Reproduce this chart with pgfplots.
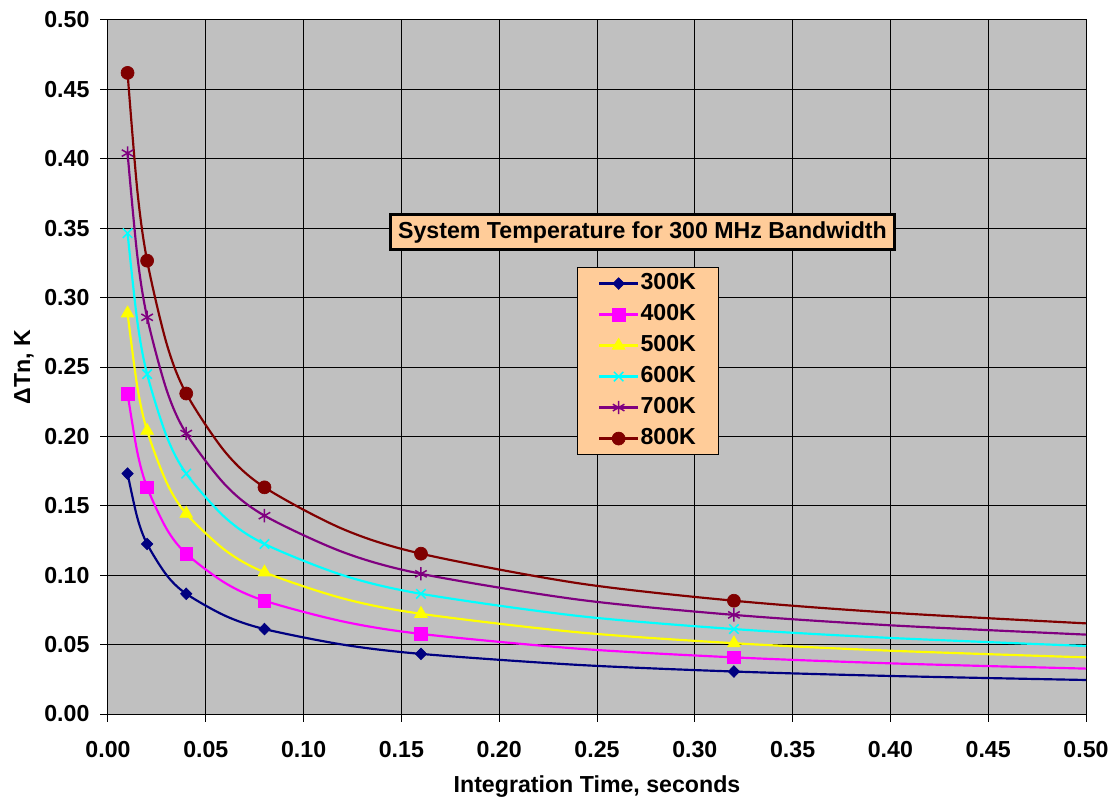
\documentclass[border=0pt]{standalone}
\usepackage{fontspec}
\setmainfont{Liberation Sans}
\usepackage{pgfplots}
\pgfplotsset{compat=1.18}
\definecolor{bggray}{RGB}{192,192,192}
\definecolor{peach}{RGB}{255,204,153}
\definecolor{c300}{RGB}{0,0,128}
\definecolor{c400}{RGB}{255,0,255}
\definecolor{c500}{RGB}{255,255,0}
\definecolor{c600}{RGB}{0,255,255}
\definecolor{c700}{RGB}{128,0,128}
\definecolor{c800}{RGB}{128,0,0}
\newcommand{\chartfont}{\fontsize{13.9}{16}\selectfont\bfseries}
\begin{document}
\begin{tikzpicture}
\begin{axis}[
  at={(0,0)}, anchor=south west,
  scale only axis, width=586.8pt, height=416.4pt,
  xmin=0, xmax=0.5, ymin=0, ymax=0.5,
  xtick={0,0.05,0.1,0.15,0.2,0.25,0.3,0.35,0.4,0.45,0.5},
  ytick={0,0.05,0.1,0.15,0.2,0.25,0.3,0.35,0.4,0.45,0.5},
  xtick pos=left, ytick pos=left,
  tick align=outside, major tick length=4.6pt,
  tick style={black, line width=0.6pt},
  grid=major, major grid style={black, line width=0.6pt},
  axis line style={black, line width=0.6pt},
  axis background/.style={fill=bggray},
  /pgf/number format/fixed, /pgf/number format/fixed zerofill,
  /pgf/number format/precision=2, /pgf/number format/assume math mode=true,
  tick label style={font=\chartfont},
  xticklabel style={yshift=-8pt},
  yticklabel style={xshift=-3pt},
  xlabel={Integration Time, seconds},
  ylabel={ΔTn, K},
  label style={font=\chartfont},
  xlabel style={at={(axis description cs:0.5,-0.104)}, anchor=center},
  ylabel style={at={(axis description cs:-0.0859,0.5)}, anchor=center, rotate=0},
  legend style={at={(rel axis cs:0.4796,0.644)}, anchor=north west,
    fill=peach, draw=black, line width=0.6pt, font=\chartfont,
    inner xsep=12.5pt, inner ysep=1.85pt, row sep=3.1pt,
    nodes={inner sep=1pt, text height=10.5pt, text depth=3pt}},
  legend cell align=left,
  legend image code/.code={
    \draw[#1, line width=1.3pt] (0pt,0pt) -- (23pt,0pt);
    \draw[#1] plot coordinates {(11.5pt,0pt)};
  },
]
% smooth curves
\addplot[c300, line width=1.3pt, smooth, forget plot] coordinates {
(0.01,0.1732) (0.015,0.1414) (0.02,0.1225) (0.03,0.1000) (0.04,0.0866) (0.06,0.0707) (0.08,0.0612) (0.12,0.0500) (0.16,0.0433) (0.24,0.0354) (0.32,0.0306) (0.40,0.0274) (0.50,0.0245)};
\addplot[c400, line width=1.3pt, smooth, forget plot] coordinates {
(0.01,0.2309) (0.015,0.1886) (0.02,0.1633) (0.03,0.1333) (0.04,0.1155) (0.06,0.0943) (0.08,0.0816) (0.12,0.0667) (0.16,0.0577) (0.24,0.0471) (0.32,0.0408) (0.40,0.0365) (0.50,0.0327)};
\addplot[c500, line width=1.3pt, smooth, forget plot] coordinates {
(0.01,0.2887) (0.015,0.2357) (0.02,0.2041) (0.03,0.1667) (0.04,0.1443) (0.06,0.1179) (0.08,0.1021) (0.12,0.0833) (0.16,0.0722) (0.24,0.0589) (0.32,0.0510) (0.40,0.0456) (0.50,0.0408)};
\addplot[c600, line width=1.3pt, smooth, forget plot] coordinates {
(0.01,0.3464) (0.015,0.2828) (0.02,0.2449) (0.03,0.2000) (0.04,0.1732) (0.06,0.1414) (0.08,0.1225) (0.12,0.1000) (0.16,0.0866) (0.24,0.0707) (0.32,0.0612) (0.40,0.0548) (0.50,0.0490)};
\addplot[c700, line width=1.3pt, smooth, forget plot] coordinates {
(0.01,0.4041) (0.015,0.3300) (0.02,0.2858) (0.03,0.2333) (0.04,0.2021) (0.06,0.1650) (0.08,0.1429) (0.12,0.1167) (0.16,0.1010) (0.24,0.0825) (0.32,0.0714) (0.40,0.0639) (0.50,0.0572)};
\addplot[c800, line width=1.3pt, smooth, forget plot] coordinates {
(0.01,0.4619) (0.015,0.3771) (0.02,0.3266) (0.03,0.2667) (0.04,0.2309) (0.06,0.1886) (0.08,0.1633) (0.12,0.1333) (0.16,0.1155) (0.24,0.0943) (0.32,0.0816) (0.40,0.0730) (0.50,0.0653)};
% markers
\addplot[c300, only marks, mark=diamond*, mark size=3.5pt, mark options={xscale=1.3}, line width=0.4pt] coordinates {
(0.01,0.1732) (0.02,0.1225) (0.04,0.0866) (0.08,0.0612) (0.16,0.0433) (0.32,0.0306)};
\addlegendentry{300K}
\addplot[c400, only marks, mark=square*, mark size=3.8pt, line width=0.4pt] coordinates {
(0.01,0.2309) (0.02,0.1633) (0.04,0.1155) (0.08,0.0816) (0.16,0.0577) (0.32,0.0408)};
\addlegendentry{400K}
\addplot[c500, only marks, mark=triangle*, mark size=4.4pt, line width=0.4pt] coordinates {
(0.01,0.2887) (0.02,0.2041) (0.04,0.1443) (0.08,0.1021) (0.16,0.0722) (0.32,0.0510)};
\addlegendentry{500K}
\addplot[c600, only marks, mark=x, mark size=4pt, line width=0.9pt] coordinates {
(0.01,0.3464) (0.02,0.2449) (0.04,0.1732) (0.08,0.1225) (0.16,0.0866) (0.32,0.0612)};
\addlegendentry{600K}
\addplot[c700, only marks, mark=asterisk, mark size=4pt, line width=0.9pt] coordinates {
(0.01,0.4041) (0.02,0.2858) (0.04,0.2021) (0.08,0.1429) (0.16,0.1010) (0.32,0.0714)};
\addlegendentry{700K}
\addplot[c800, only marks, mark=*, mark size=3.9pt, line width=0.4pt] coordinates {
(0.01,0.4619) (0.02,0.3266) (0.04,0.2309) (0.08,0.1633) (0.16,0.1155) (0.32,0.0816)};
\addlegendentry{800K}
\node[draw=black, line width=1.8pt, fill=peach, font=\chartfont, minimum width=302pt, minimum height=21pt, inner sep=2pt] at (rel axis cs:0.5465,0.6945) {System Temperature for 300 MHz Bandwidth};
\end{axis}
\pgfresetboundingbox
\path (-64.8pt,-51pt) rectangle (601.8pt,428.4pt);
\end{tikzpicture}
\end{document}
